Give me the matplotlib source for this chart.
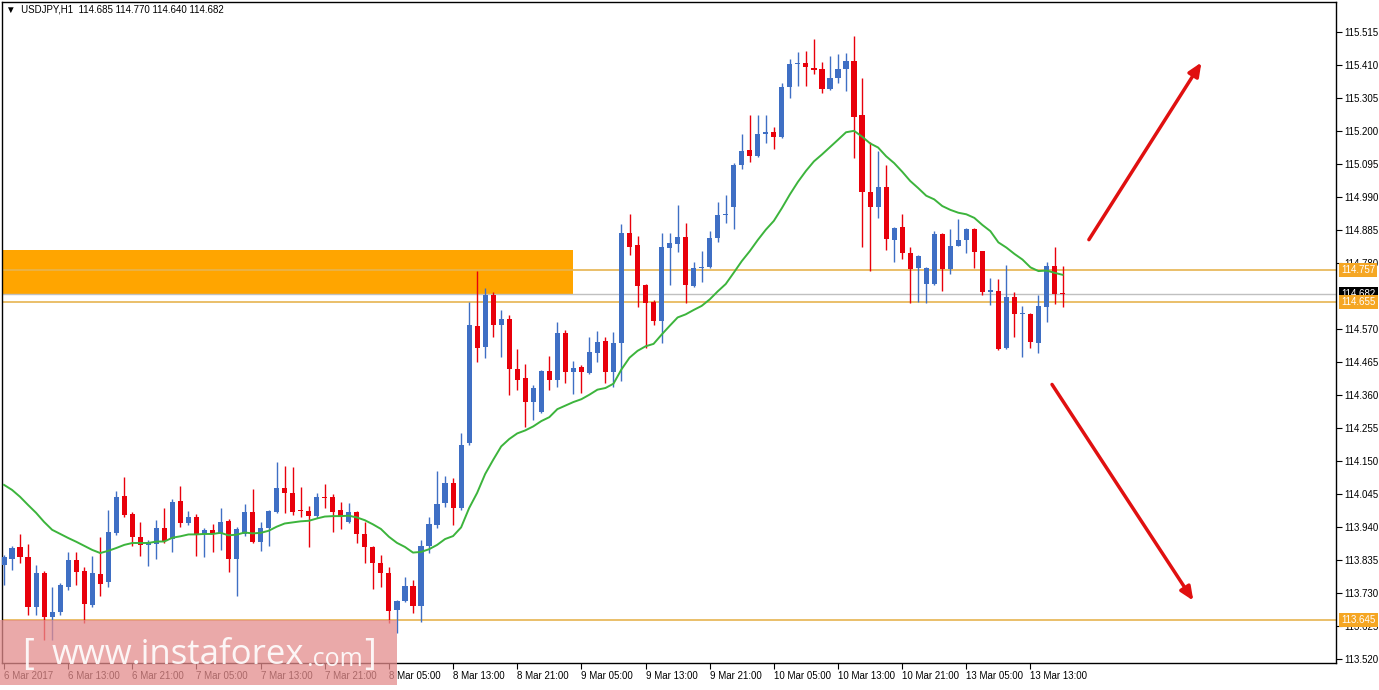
import numpy as np
import matplotlib
matplotlib.use("Agg")
import matplotlib.pyplot as plt
from matplotlib.patches import Rectangle

opens = [113.819,113.838,113.877,113.845,113.686,113.793,113.654,113.670,113.749,113.835,
113.800,113.692,113.790,113.765,113.921,114.039,113.981,113.908,113.883,113.886,
113.937,113.902,114.023,113.953,113.972,113.918,113.931,113.918,113.959,113.838,
113.918,113.988,113.893,113.937,113.988,114.064,114.048,113.994,113.991,113.975,
114.036,114.036,113.994,113.956,113.988,113.918,113.877,113.825,113.793,113.676,
113.705,113.752,113.689,113.880,113.946,114.017,114.080,114.001,114.207,114.580,
114.513,114.678,114.583,114.602,114.443,114.414,114.338,114.306,114.437,114.408,
114.557,114.433,114.449,114.430,114.494,114.532,114.433,114.526,114.876,114.837,
114.710,114.656,114.596,114.828,114.840,114.863,114.707,114.764,114.767,114.860,
114.933,114.958,115.092,115.140,115.121,115.191,115.197,115.181,115.340,115.413,
115.417,115.401,115.397,115.334,115.369,115.397,115.423,115.251,115.006,114.958,
115.022,114.853,114.895,114.812,114.764,114.713,114.713,114.872,114.761,114.834,
114.853,114.888,114.818,114.688,114.691,114.510,114.672,114.618,114.618,114.526,
114.640,114.771,114.685]
highs = [113.851,113.880,113.918,113.886,113.819,113.800,113.749,113.761,113.861,113.861,
113.813,113.848,113.908,113.994,114.055,114.100,113.988,113.956,113.899,113.962,
114.001,114.029,114.071,113.991,113.981,113.937,113.950,114.001,113.965,113.940,
114.013,114.061,113.956,113.994,114.147,114.134,114.131,114.068,114.007,114.048,
114.077,114.045,114.020,114.017,113.991,113.956,113.880,113.851,113.813,113.708,
113.781,113.771,113.899,113.972,114.118,114.103,114.096,114.239,114.656,114.755,
114.700,114.688,114.631,114.615,114.506,114.459,114.392,114.440,114.484,114.592,
114.567,114.468,114.456,114.545,114.564,114.545,114.561,114.904,114.936,114.866,
114.713,114.662,114.876,114.876,114.965,114.907,114.783,114.818,114.882,114.974,
114.997,115.098,115.191,115.251,115.251,115.251,115.213,115.353,115.429,115.452,
115.455,115.493,115.420,115.439,115.445,115.448,115.502,115.369,115.165,115.136,
115.092,114.895,114.936,114.831,114.805,114.767,114.882,114.876,114.888,114.920,
114.891,114.891,114.818,114.732,114.729,114.774,114.688,114.643,114.621,114.678,
114.783,114.831,114.770]
lows = [113.755,113.803,113.825,113.660,113.660,113.581,113.581,113.660,113.740,113.755,
113.634,113.686,113.721,113.749,113.915,113.972,113.880,113.848,113.816,113.838,
113.889,113.861,113.940,113.946,113.848,113.845,113.861,113.867,113.797,113.721,
113.912,113.889,113.864,113.880,113.985,113.985,113.978,113.972,113.877,113.969,
114.001,113.925,113.934,113.953,113.889,113.825,113.743,113.749,113.634,113.602,
113.702,113.667,113.638,113.858,113.937,114.004,113.946,113.994,114.201,114.465,
114.478,114.545,114.481,114.360,114.376,114.258,114.281,114.303,114.376,114.386,
114.398,114.363,114.366,114.427,114.465,114.398,114.386,114.405,114.805,114.640,
114.510,114.583,114.526,114.710,114.815,114.653,114.704,114.720,114.764,114.847,
114.907,114.888,115.079,115.102,115.117,115.162,115.143,115.178,115.305,115.343,
115.343,115.381,115.321,115.331,115.353,115.327,115.114,114.831,114.755,114.923,
114.821,114.783,114.793,114.653,114.656,114.653,114.710,114.691,114.745,114.834,
114.812,114.764,114.678,114.647,114.503,114.506,114.545,114.481,114.510,114.494,
114.592,114.650,114.640]
closes = [113.845,113.874,113.845,113.686,113.793,113.654,113.670,113.755,113.835,113.797,
113.695,113.793,113.758,113.925,114.036,113.978,113.908,113.883,113.889,113.937,
113.896,114.020,113.953,113.972,113.918,113.931,113.918,113.956,113.838,113.934,
113.988,113.893,113.937,113.991,114.064,114.048,113.988,113.991,113.975,114.036,
114.032,113.988,113.975,113.988,113.918,113.877,113.825,113.793,113.673,113.705,
113.752,113.689,113.880,113.950,114.013,114.080,114.001,114.201,114.583,114.510,
114.678,114.583,114.602,114.443,114.408,114.338,114.382,114.437,114.408,114.557,
114.433,114.446,114.433,114.497,114.529,114.433,114.526,114.876,114.831,114.707,
114.653,114.596,114.831,114.844,114.863,114.710,114.764,114.767,114.860,114.933,
114.936,115.092,115.136,115.121,115.191,115.197,115.181,115.340,115.413,115.417,
115.404,115.394,115.334,115.369,115.397,115.423,115.245,115.006,114.958,115.022,
114.856,114.891,114.812,114.761,114.802,114.764,114.872,114.761,114.834,114.853,
114.888,114.815,114.688,114.694,114.506,114.672,114.618,114.621,114.529,114.643,
114.771,114.682,114.682]
# MA values for the first candles (history not shown)
ma_head = [114.074,114.058,114.036,114.010,113.985,113.956,113.931,113.918,113.905,113.893,
113.880,113.867,113.857,113.864,113.873,113.883,113.889,113.889,113.889]
xlabels = ["6 Mar 2017","6 Mar 13:00","6 Mar 21:00","7 Mar 05:00","7 Mar 13:00","7 Mar 21:00",
"8 Mar 05:00","8 Mar 13:00","8 Mar 21:00","9 Mar 05:00","9 Mar 13:00","9 Mar 21:00",
"10 Mar 05:00","10 Mar 13:00","10 Mar 21:00","13 Mar 05:00","13 Mar 13:00"]
yticks = [115.515,115.410,115.305,115.200,115.095,114.990,114.885,114.780,114.570,114.465,
114.360,114.255,114.150,114.045,113.940,113.835,113.730,113.625,113.520]
levels = [114.757,114.655,113.645]
current = 114.682
zone = (114.678, 114.821)

FONT = "Liberation Sans"
FS = 7
W, H = 1379, 690
fig = plt.figure(figsize=(W/100, H/100), dpi=100)
ax = fig.add_axes([2/W, 1-663/H, (1336-2)/W, (663-2)/H])
n = len(closes)
x = np.arange(n)
ax.set_xlim(-0.25, 166.1)
ax.set_ylim(113.507, 115.611)

ax.add_patch(Rectangle((-0.3, zone[0]), 71.3, zone[1]-zone[0], color="#ffa500", zorder=1, lw=0))
for lv in levels:
    ax.axhline(lv, color="#e6b450", lw=1.2, zorder=2)
ax.axhline(current, color="#c0c0c0", lw=1, zorder=2)

blue, red = "#3f6fc4", "#e8000b"
for i in range(n):
    o, h, l, c = opens[i], highs[i], lows[i], closes[i]
    col = blue if c >= o else red
    ax.vlines(i, l, h, color=col, lw=1, zorder=3)
    b0, b1 = min(o, c), max(o, c)
    ax.add_patch(Rectangle((i-0.32, b0), 0.64, max(b1-b0, 0.004), color=col, lw=0, zorder=4))

# exponential moving average (20), continued from the values read at the left edge
alpha = 2/21
ma = list(ma_head)
for i in range(len(ma_head), n):
    ma.append(ma[-1] + alpha*(closes[i]-ma[-1]))
ax.plot(x, ma, color="#3cb43c", lw=1.4, zorder=5)

ax.annotate("", xy=(149.5, 115.426), xytext=(135.1, 114.847),
            arrowprops=dict(arrowstyle="-|>,head_length=0.8,head_width=0.35", color="#e01010", lw=2.5))
ax.annotate("", xy=(148.5, 113.698), xytext=(130.5, 114.401),
            arrowprops=dict(arrowstyle="-|>,head_length=0.8,head_width=0.35", color="#e01010", lw=2.5))

ax.yaxis.tick_right()
ax.set_yticks(yticks)
ax.set_yticklabels([f"{v:.3f}" for v in yticks], fontsize=FS, family=FONT)
ax.tick_params(axis="y", length=4, pad=2, width=0.8)
ax.set_xticks(np.arange(0, 8*len(xlabels), 8))
ax.set_xticklabels(xlabels, fontsize=FS, ha="left", family=FONT)
ax.tick_params(axis="x", length=4, pad=2, width=0.8)
for s in ax.spines.values():
    s.set_linewidth(1)

def box(v, bg, fg="white"):
    ax.text(1.004, v, f"{v:.3f}", transform=ax.get_yaxis_transform(), fontsize=FS,
            va="center", ha="left", color=fg, zorder=10, family=FONT,
            bbox=dict(boxstyle="square,pad=0.2", fc=bg, ec="none"))
box(levels[0], "#f5a623")
box(current, "black")
box(levels[1], "#f5a623")
box(levels[2], "#f5a623")

fig.text(6/W, 1-10/H, "\u25bc  USDJPY,H1  114.685 114.770 114.640 114.682", fontsize=FS,
         va="center", family=["Liberation Sans", "DejaVu Sans"])

fig.patches.append(Rectangle((0, 1-685/H), 397/W, 65/H, transform=fig.transFigure,
                             color="#e48c8c", alpha=0.75, zorder=20, lw=0))
wm = dict(color="white", alpha=0.9, va="center", zorder=21, family="Open Sans")
fig.text(22/W, 1-655/H, "[", fontsize=26, **wm)
fig.text(52/W, 1-655/H, "www.instaforex", fontsize=25, **wm)
fig.text(306/W, 1-659/H, ".com", fontsize=18, **wm)
fig.text(364/W, 1-655/H, "]", fontsize=26, **wm)

fig.savefig("out.png", dpi=100)
